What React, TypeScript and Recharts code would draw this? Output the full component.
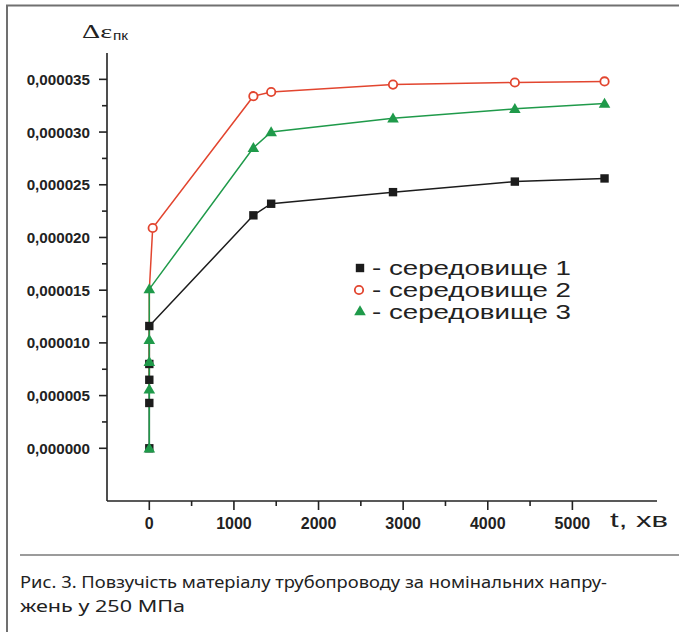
import React from 'react';
import { LineChart, Line, XAxis, YAxis } from 'recharts';

// ---- data ----
const timeS1 = [0, 0, 0, 0, 0, 1230, 1440, 2880, 4320, 5380];
const valS1 = [0, 0.0000043, 0.0000065, 0.000008, 0.0000116, 0.0000221, 0.0000232, 0.0000243, 0.0000253, 0.0000256];

const timeS2 = [0, 0, 0, 0, 40, 1230, 1440, 2880, 4320, 5380];
const valS2 = [0.0000056, 0.0000082, 0.0000103, 0.000015, 0.0000209, 0.0000334, 0.0000338, 0.0000345, 0.0000347, 0.0000348];

const timeS3 = [0, 0, 0, 0, 0, 1230, 1440, 2880, 4320, 5380];
const valS3 = [0, 0.0000056, 0.0000082, 0.0000103, 0.0000151, 0.0000285, 0.00003, 0.0000313, 0.0000322, 0.0000327];

const seriesNames = ['середовище 1', 'середовище 2', 'середовище 3'];

const xTicks = [0, 500, 1000, 1500, 2000, 2500, 3000, 3500, 4000, 4500, 5000];
const yTicks = [0, 0.0000025, 0.000005, 0.0000075, 0.00001, 0.0000125, 0.000015, 0.0000175, 0.00002, 0.0000225, 0.000025, 0.0000275, 0.00003, 0.0000325, 0.000035];

const xLabel = 't, хв';
const yLabelMain = 'Δε';
const yLabelSub = 'пк';
const captionLines = [
  'Рис. 3. Повзучість матеріалу трубопроводу за номінальних напру-',
  'жень у 250 МПа',
];

const s1 = timeS1.map((x, i) => ({ x, y: valS1[i] }));
const s2 = timeS2.map((x, i) => ({ x, y: valS2[i] }));
const s3 = timeS3.map((x, i) => ({ x, y: valS3[i] }));

// ---- styles ----
const BLACK = '#1c1c1c';
const RED = '#e2452f';
const GREEN = '#1f9a4a';
const AXIS = '#222';
const SANS = 'Liberation Sans, Arial, sans-serif';

const Square = (cx: number, cy: number, key?: any) => (
  <rect key={key} x={cx - 4.2} y={cy - 4.2} width={8.4} height={8.4} fill={BLACK} />
);
const Circle = (cx: number, cy: number, key?: any) => (
  <circle key={key} cx={cx} cy={cy} r={4.2} fill="#fff" stroke={RED} strokeWidth={1.8} />
);
const Triangle = (cx: number, cy: number, key?: any) => (
  <polygon
    key={key}
    points={`${cx},${cy - 5.8} ${cx + 5.8},${cy + 4.2} ${cx - 5.8},${cy + 4.2}`}
    fill={GREEN}
  />
);

const XTick = (props: any) => {
  const { x, y, payload } = props;
  const v = payload.value;
  const major = v % 1000 === 0;
  return (
    <g>
      <line x1={x} x2={x} y1={y} y2={y + (major ? 9 : 5)} stroke={AXIS} strokeWidth={1.6} />
      {major && (
        <text x={x} y={y + 28} textAnchor="middle" fontFamily={SANS} fontWeight="bold" fontSize={16} fill={AXIS}>
          {String(v)}
        </text>
      )}
    </g>
  );
};

const YTick = (props: any) => {
  const { x, y, payload } = props;
  const v = payload.value;
  const major = Math.round(v * 1e7) % 50 === 0;
  return (
    <g>
      <line x1={x} x2={x - (major ? 8 : 5)} y1={y} y2={y} stroke={AXIS} strokeWidth={1.6} />
      {major && (
        <text x={x - 17} y={y + 5.5} textAnchor="end" fontFamily={SANS} fontWeight="bold" fontSize={15.2} fill={AXIS}>
          {v.toFixed(6).replace('.', ',')}
        </text>
      )}
    </g>
  );
};

export default function App() {
  return (
    <div style={{ position: 'absolute', left: 0, top: 0, width: 679, height: 632, background: '#fff' }}>
      <div style={{ position: 'absolute', left: 0, top: 0 }}>
        <LineChart width={679} height={632} margin={{ top: 53, right: 22, bottom: 101, left: 7 }}>
          <XAxis
            type="number"
            dataKey="x"
            domain={[-500, 6000]}
            ticks={xTicks}
            interval={0}
            allowDataOverflow
            tick={<XTick />}
            tickLine={false}
            tickSize={0}
            tickMargin={0}
            height={30}
            axisLine={{ stroke: AXIS, strokeWidth: 1.6 }}
          />
          <YAxis
            type="number"
            dataKey="y"
            domain={[-0.000005, 0.0000375]}
            ticks={yTicks}
            interval={0}
            allowDataOverflow
            tick={<YTick />}
            tickLine={false}
            tickSize={0}
            tickMargin={0}
            width={100}
            axisLine={{ stroke: AXIS, strokeWidth: 1.6 }}
          />
          <Line
            data={s1}
            dataKey="y"
            name={seriesNames[0]}
            stroke={BLACK}
            strokeWidth={1.5}
            isAnimationActive={false}
            dot={(p: any) => Square(p.cx, p.cy, `s1-${p.index}`)}
          />
          <Line
            data={s2}
            dataKey="y"
            name={seriesNames[1]}
            stroke={RED}
            strokeWidth={1.5}
            isAnimationActive={false}
            dot={(p: any) =>
              p.payload.x === 0 ? <g key={`s2-${p.index}`} /> : Circle(p.cx, p.cy, `s2-${p.index}`)
            }
          />
          <Line
            data={s3}
            dataKey="y"
            name={seriesNames[2]}
            stroke={GREEN}
            strokeWidth={1.5}
            isAnimationActive={false}
            dot={(p: any) => Triangle(p.cx, p.cy, `s3-${p.index}`)}
          />
        </LineChart>
      </div>
      <svg width={679} height={632} style={{ position: 'absolute', left: 0, top: 0, pointerEvents: 'none' }}>
        {/* frame */}
        <line x1={6} x2={679} y1={5.5} y2={5.5} stroke="#707070" strokeWidth={2} />
        <line x1={7} x2={7} y1={5} y2={632} stroke="#707070" strokeWidth={2} />
        <line x1={20} x2={679} y1={555} y2={555} stroke="#7a7a7a" strokeWidth={1.5} />

        {/* y label */}
        <text x={82} y={38} fontFamily="Liberation Serif, serif" fontSize={19} fill={AXIS} textLength={30} lengthAdjust="spacingAndGlyphs">
          {yLabelMain}
        </text>
        <text x={113} y={40} fontFamily={SANS} fontSize={13} fill={AXIS} textLength={15} lengthAdjust="spacingAndGlyphs">
          {yLabelSub}
        </text>

        {/* x label */}
        <text x={610} y={527} fontFamily={SANS} fontSize={21} fill={AXIS} textLength={58} lengthAdjust="spacingAndGlyphs">
          {xLabel}
        </text>

        {/* legend */}
        {Square(360, 268)}
        {Circle(359, 290)}
        {Triangle(360, 311)}
        {[275, 297, 318.5].map((by, i) => (
          <text
            key={i}
            x={372}
            y={by}
            fontFamily={SANS}
            fontSize={20.5}
            fill={AXIS}
            textLength={199}
            lengthAdjust="spacingAndGlyphs"
          >
            {'- ' + seriesNames[i]}
          </text>
        ))}

        {/* caption */}
        <text x={20} y={588} fontFamily="Noto Sans, sans-serif" fontSize={16.5} fill="#222" textLength={587} lengthAdjust="spacingAndGlyphs">
          {captionLines[0]}
        </text>
        <text x={20} y={612} fontFamily="Noto Sans, sans-serif" fontSize={16.5} fill="#222" textLength={165} lengthAdjust="spacingAndGlyphs">
          {captionLines[1]}
        </text>
      </svg>
    </div>
  );
}
